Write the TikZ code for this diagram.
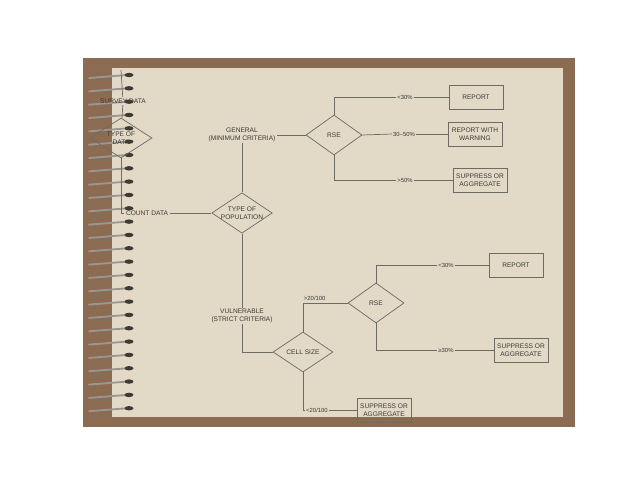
\documentclass[tikz,border=0pt]{standalone}
\usepackage{fontspec}
\setmainfont{Liberation Sans}
\usetikzlibrary{shapes.geometric}
\definecolor{cover}{RGB}{140,107,83}
\definecolor{paper}{RGB}{226,218,199}
\definecolor{ink}{RGB}{60,58,54}
\definecolor{wire}{RGB}{110,106,100}
\definecolor{hole}{RGB}{62,60,50}

\begin{document}
\begin{tikzpicture}[
    x=0.025cm, y=-0.025cm,
    every node/.style={font=\fontsize{4.7}{5.4}\selectfont, text=ink, inner sep=1pt, align=center},
    link/.style={draw=wire, line width=0.5pt},
    choice/.style={diamond, draw=wire, line width=0.5pt, minimum width=1.5cm, minimum height=1cm,
      inner sep=0pt, shape aspect=1.5},
    outbox/.style={draw=wire, line width=0.5pt, minimum width=1.35cm, minimum height=0.6cm, inner sep=0pt},
    cond/.style={font=\fontsize{4.2}{4.8}\selectfont, inner sep=0.5pt},
  ]
  \useasboundingbox (0,0) rectangle (640,480);
  \fill[cover] (83,58) rectangle (575,427);
  \fill[paper] (112,68) rectangle (563,417);
  \foreach \i in {0,...,25} {
    \pgfmathsetmacro\ring{75+13.33*\i}
    \draw[wire!70, line width=1.3pt, line cap=round] (89,\ring+3) -- (127,\ring);
    \fill[hole] (129,\ring) ellipse (4.5 and 2.2);
  }

  \coordinate (start) at (121,70);
  \node (survey) at (123,101) {SURVEY DATA};
  \node[choice, minimum width=1.55cm] (datatype) at (121,138) {TYPE OF\\DATA};
  \node (count) at (147,213) {COUNT DATA};
  \node[choice] (poptype) at (242,213) {TYPE OF\\POPULATION};
  \node (general) at (242,135) {GENERAL\\(MINIMUM CRITERIA)};
  \node (vulnerable) at (242,316) {VULNERABLE\\(STRICT CRITERIA)};

  \node[choice, minimum width=1.4cm] (rsegen) at (334,135) {RSE};
  \node[cond] (gen1) at (405,97) {<30\%};
  \node[cond] (gen2) at (404,134) {30--50\%};
  \node[cond] (gen3) at (405,180) {>50\%};
  \node[outbox] (repgen) at (476,97) {REPORT};
  \node[outbox] (warngen) at (475,134) {REPORT WITH\\WARNING};
  \node[outbox] (supgen) at (480,180) {SUPPRESS OR\\AGGREGATE};

  \node[choice] (cellsize) at (303,352) {CELL SIZE};
  \node[choice, minimum width=1.4cm] (rsevul) at (376,303) {RSE};
  \node[cond, anchor=south west] (gt20) at (303,302) {>20/100};
  \node[cond] (lt20) at (317,410) {<20/100};
  \node[cond] (vul1) at (446,265) {<30\%};
  \node[cond] (vul2) at (446,350) {≥30\%};
  \node[outbox] (repvul) at (516,265) {REPORT};
  \node[outbox] (supvul) at (521,350) {SUPPRESS OR\\AGGREGATE};
  \node[outbox] (supcell) at (384,410) {SUPPRESS OR\\AGGREGATE};

  \draw[link] (start) -- (survey);
  \draw[link] (survey) -- (datatype);
  \draw[link] (datatype.south) |- (count.west);
  \draw[link] (count) -- (poptype);
  \draw[link] (poptype.north) -- (general.south);
  \draw[link] (poptype.south) -- (vulnerable.north);
  \draw[link] (general.east) -- (rsegen.west);
  \draw[link] (rsegen.north) |- (gen1.west);
  \draw[link] (rsegen.east) -- (gen2.west);
  \draw[link] (rsegen.south) |- (gen3.west);
  \draw[link] (gen1) -- (repgen);
  \draw[link] (gen2) -- (warngen);
  \draw[link] (gen3) -- (supgen);
  \draw[link] (vulnerable.south) |- (cellsize.west);
  \draw[link] (cellsize.north) |- (rsevul.west);
  \draw[link] (cellsize.south) |- (lt20.west);
  \draw[link] (lt20) -- (supcell);
  \draw[link] (rsevul.north) |- (vul1.west);
  \draw[link] (rsevul.south) |- (vul2.west);
  \draw[link] (vul1) -- (repvul);
  \draw[link] (vul2) -- (supvul);
\end{tikzpicture}
\end{document}
